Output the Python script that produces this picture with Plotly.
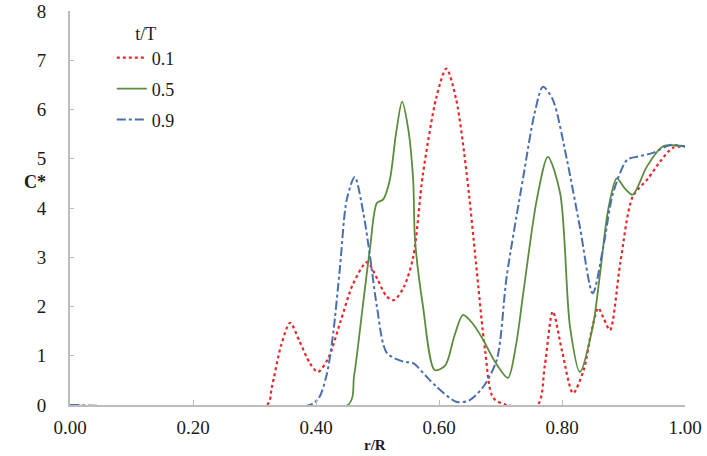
import plotly.graph_objects as go

# t/T = 0.1
x_01 = [0.0, 0.32, 0.328, 0.343, 0.358, 0.373, 0.39, 0.403, 0.42, 0.44, 0.46, 0.483, 0.5, 0.515, 0.527, 0.543, 0.558, 0.574, 0.596, 0.612, 0.628, 0.645, 0.66, 0.675, 0.688, 0.71, 0.76, 0.772, 0.785, 0.80, 0.818, 0.835, 0.848, 0.859, 0.868, 0.878, 0.895, 0.915, 0.94, 0.96, 0.98, 1.0]
y_01 = [0.0, 0.0, 0.35, 1.2, 1.67, 1.3, 0.85, 0.67, 0.95, 1.7, 2.45, 2.9, 2.55, 2.2, 2.13, 2.4, 3.0, 4.7, 6.26, 6.83, 6.2, 4.7, 2.9, 1.1, 0.15, 0.0, 0.0, 0.8, 1.9, 1.1, 0.24, 0.7, 1.5, 1.97, 1.75, 1.52, 2.9, 4.23, 4.6, 4.95, 5.22, 5.25]

# t/T = 0.5
x_05 = [0.0, 0.452, 0.462, 0.476, 0.488, 0.499, 0.509, 0.52, 0.53, 0.54, 0.55, 0.558, 0.561, 0.574, 0.593, 0.61, 0.625, 0.639, 0.655, 0.672, 0.69, 0.712, 0.725, 0.737, 0.759, 0.777, 0.797, 0.813, 0.829, 0.85, 0.862, 0.875, 0.889, 0.902, 0.915, 0.938, 0.964, 1.0]
y_05 = [0.0, 0.0, 0.6, 2.0, 3.2, 4.1, 4.17, 4.57, 5.5, 6.16, 5.6, 4.57, 3.35, 2.0, 0.71, 0.8, 1.4, 1.83, 1.65, 1.32, 0.9, 0.55, 1.2, 2.27, 4.17, 5.04, 4.3, 1.59, 0.67, 1.59, 2.68, 3.96, 4.6, 4.4, 4.27, 4.84, 5.25, 5.25]

# t/T = 0.9
x_09 = [0.0, 0.39, 0.405, 0.418, 0.428, 0.439, 0.45, 0.463, 0.477, 0.488, 0.499, 0.515, 0.542, 0.558, 0.578, 0.596, 0.629, 0.65, 0.672, 0.694, 0.71, 0.737, 0.755, 0.769, 0.785, 0.808, 0.829, 0.85, 0.867, 0.883, 0.906, 0.922, 0.948, 0.976, 1.0]
y_09 = [0.0, 0.0, 0.15, 0.65, 1.46, 2.8, 4.17, 4.63, 3.9, 3.0, 2.0, 1.06, 0.88, 0.85, 0.6, 0.37, 0.06, 0.1, 0.37, 0.92, 2.6, 4.63, 5.9, 6.46, 6.2, 4.98, 3.62, 2.27, 3.2, 4.3, 4.98, 5.04, 5.12, 5.28, 5.25]

names = ["0.1", "0.5", "0.9"]
xs = [x_01, x_05, x_09]
ys = [y_01, y_05, y_09]
colors = ["#e8262a", "#5b8c3e", "#4a6fb0"]
dashes = ["dot", "solid", "dashdot"]
widths = [2.2, 1.8, 2]

x_ticks = [0.0, 0.2, 0.4, 0.6, 0.8, 1.0]
x_tick_labels = ["0.00", "0.20", "0.40", "0.60", "0.80", "1.00"]
y_ticks = [0, 1, 2, 3, 4, 5, 6, 7, 8]

fig = go.Figure()
for i in range(3):
    fig.add_trace(go.Scatter(
        x=xs[i], y=ys[i], mode="lines", name=names[i], legendgroup=names[i],
        line=dict(color=colors[i], dash=dashes[i], width=widths[i], shape="spline", smoothing=0.8),
    ))

font_family = "Liberation Serif, Times New Roman, serif"
fig.update_layout(
    width=707, height=456,
    margin=dict(l=70, r=22, t=11, b=51, autoexpand=False),
    plot_bgcolor="white", paper_bgcolor="white",
    font=dict(family=font_family, size=19, color="#1a1a1a"),
    showlegend=True,
    legend=dict(
        x=0.068, y=0.987, xanchor="left", yanchor="top",
        title=dict(text="t/T", side="top center", font=dict(size=18)),
        tracegroupgap=4.5, bgcolor="rgba(0,0,0,0)",
        font=dict(size=18),
    ),
    xaxis=dict(
        range=[0, 1.0], tickvals=x_ticks, ticktext=x_tick_labels, automargin=False,
        showgrid=False, zeroline=False, showline=True, linecolor="#bdbdbd", linewidth=2,
        ticks="inside", ticklen=5, tickcolor="#bdbdbd", ticklabelstandoff=4,
    ),
    yaxis=dict(
        range=[0, 8], tickvals=y_ticks, automargin=False,
        showgrid=False, zeroline=False, showline=True, linecolor="#bdbdbd", linewidth=2,
        ticks="inside", ticklen=4, tickcolor="#bdbdbd", ticklabelstandoff=18,
    ),
    annotations=[
        dict(text="<b>C*</b>", x=-0.078, y=0.566, xref="paper", yref="paper", showarrow=False,
             font=dict(size=18, family=font_family)),
        dict(text="<b>r/R</b>", x=0.496, y=-0.127, xref="paper", yref="paper", yanchor="bottom",
             showarrow=False, font=dict(size=15, family=font_family)),
    ],
)

fig.write_html("out.html")
